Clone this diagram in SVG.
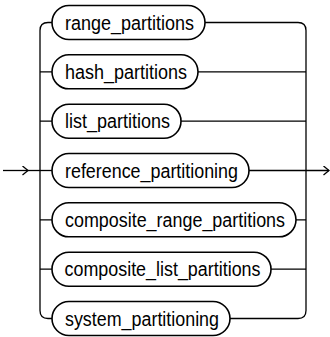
<svg xmlns="http://www.w3.org/2000/svg" width="330" height="337" viewBox="0 0 330 337">
<defs>
<style>
.box{fill:#fff;stroke:#000;stroke-width:1.6}
.lbl{font-family:"Liberation Sans",Arial,Helvetica,sans-serif;font-size:20px;fill:#000;text-anchor:middle}
.ln{fill:none;stroke:#000;stroke-width:1.3}
</style>
<marker id="arr" markerWidth="8" markerHeight="10" refX="6" refY="5" orient="auto" markerUnits="userSpaceOnUse">
<path d="M0.5,0.5 L6,5 L0.5,9.5" fill="none" stroke="#000" stroke-width="1.3"/>
</marker>
</defs>
<g id="connectors">
<path class="ln" d="M3,170.5 H28" marker-end="url(#arr)"/>
<path class="ln" d="M28,170.5 H52"/>
<path class="ln" d="M52,22.5 H48 Q40,22.5 40,30.5 V310.5 Q40,318.5 48,318.5 H52"/>
<path class="ln" d="M40,71.8 H52 M40,121.2 H52 M40,219.8 H52 M40,269.2 H52"/>
<path class="ln" d="M205,22.5 H298 Q306,22.5 306,30.5 V310.5 Q306,318.5 298,318.5 H230"/>
<path class="ln" d="M198,71.8 H306 M181,121.2 H306 M296,219.8 H306 M271,269.2 H306"/>
<path class="ln" d="M249,170.5 H329" marker-end="url(#arr)"/>
</g>
<g id="range_partitions">
<rect class="box" x="52" y="5.5" width="153" height="34" rx="17"/>
<text class="lbl" x="129.5" y="29.5" textLength="129" lengthAdjust="spacingAndGlyphs">range_partitions</text>
</g>
<g id="hash_partitions">
<rect class="box" x="52" y="54.8" width="146" height="34" rx="17"/>
<text class="lbl" x="126" y="78.8" textLength="122" lengthAdjust="spacingAndGlyphs">hash_partitions</text>
</g>
<g id="list_partitions">
<rect class="box" x="52" y="104.2" width="129" height="34" rx="17"/>
<text class="lbl" x="117.5" y="128.2" textLength="105" lengthAdjust="spacingAndGlyphs">list_partitions</text>
</g>
<g id="reference_partitioning">
<rect class="box" x="52" y="153.5" width="197" height="34" rx="17"/>
<text class="lbl" x="151.5" y="177.5" textLength="173" lengthAdjust="spacingAndGlyphs">reference_partitioning</text>
</g>
<g id="composite_range_partitions">
<rect class="box" x="52" y="202.8" width="244" height="34" rx="17"/>
<text class="lbl" x="175" y="226.8" textLength="220" lengthAdjust="spacingAndGlyphs">composite_range_partitions</text>
</g>
<g id="composite_list_partitions">
<rect class="box" x="52" y="252.2" width="219" height="34" rx="17"/>
<text class="lbl" x="162.5" y="276.2" textLength="196" lengthAdjust="spacingAndGlyphs">composite_list_partitions</text>
</g>
<g id="system_partitioning">
<rect class="box" x="52" y="301.5" width="178" height="34" rx="17"/>
<text class="lbl" x="142" y="325.5" textLength="154" lengthAdjust="spacingAndGlyphs">system_partitioning</text>
</g>
</svg>
